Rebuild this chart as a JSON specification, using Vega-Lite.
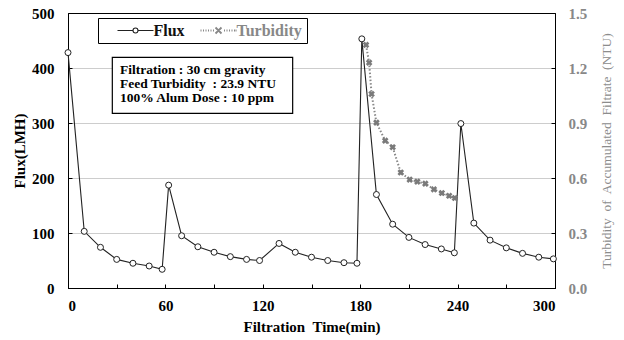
{
  "$schema": "https://vega.github.io/schema/vega-lite/v6.json",
  "width": 487,
  "height": 275,
  "autosize": {"type": "none"},
  "padding": {"left": 68, "top": 13, "right": 69, "bottom": 52},
  "background": "white",
  "config": {
    "view": {"stroke": "black", "strokeWidth": 1},
    "font": "Liberation Serif",
    "axis": {
      "labelFont": "Liberation Serif",
      "labelFontWeight": "bold",
      "labelFontSize": 15,
      "titleFont": "Liberation Serif",
      "titleFontWeight": "bold",
      "titleFontSize": 15,
      "domainColor": "black",
      "tickColor": "black",
      "labelColor": "black",
      "titleColor": "black"
    }
  },
  "datasets": {
    "series": [
      {"time": 0, "value": 428, "series": "Flux"},
      {"time": 10, "value": 103, "series": "Flux"},
      {"time": 20, "value": 74, "series": "Flux"},
      {"time": 30, "value": 52, "series": "Flux"},
      {"time": 40, "value": 45, "series": "Flux"},
      {"time": 50, "value": 40, "series": "Flux"},
      {"time": 58, "value": 34, "series": "Flux"},
      {"time": 62, "value": 187, "series": "Flux"},
      {"time": 70, "value": 95, "series": "Flux"},
      {"time": 80, "value": 75, "series": "Flux"},
      {"time": 90, "value": 65, "series": "Flux"},
      {"time": 100, "value": 57, "series": "Flux"},
      {"time": 110, "value": 52, "series": "Flux"},
      {"time": 118, "value": 50, "series": "Flux"},
      {"time": 130, "value": 81, "series": "Flux"},
      {"time": 140, "value": 65, "series": "Flux"},
      {"time": 150, "value": 56, "series": "Flux"},
      {"time": 160, "value": 50, "series": "Flux"},
      {"time": 170, "value": 46, "series": "Flux"},
      {"time": 178, "value": 45, "series": "Flux"},
      {"time": 181, "value": 453, "series": "Flux"},
      {"time": 190, "value": 170, "series": "Flux"},
      {"time": 200, "value": 116, "series": "Flux"},
      {"time": 210, "value": 92, "series": "Flux"},
      {"time": 220, "value": 79, "series": "Flux"},
      {"time": 230, "value": 71, "series": "Flux"},
      {"time": 238, "value": 64, "series": "Flux"},
      {"time": 242, "value": 299, "series": "Flux"},
      {"time": 250, "value": 118, "series": "Flux"},
      {"time": 260, "value": 87, "series": "Flux"},
      {"time": 270, "value": 73, "series": "Flux"},
      {"time": 280, "value": 63, "series": "Flux"},
      {"time": 290, "value": 56, "series": "Flux"},
      {"time": 299, "value": 53, "series": "Flux"},
      {"time": 183.6, "value": 1.326, "series": "Turbidity"},
      {"time": 185.5, "value": 1.229, "series": "Turbidity"},
      {"time": 187, "value": 1.058, "series": "Turbidity"},
      {"time": 190, "value": 0.902, "series": "Turbidity"},
      {"time": 195.4, "value": 0.804, "series": "Turbidity"},
      {"time": 200, "value": 0.768, "series": "Turbidity"},
      {"time": 205, "value": 0.63, "series": "Turbidity"},
      {"time": 210.5, "value": 0.591, "series": "Turbidity"},
      {"time": 215.2, "value": 0.58, "series": "Turbidity"},
      {"time": 220.1, "value": 0.569, "series": "Turbidity"},
      {"time": 225.4, "value": 0.538, "series": "Turbidity"},
      {"time": 230.3, "value": 0.518, "series": "Turbidity"},
      {"time": 234.8, "value": 0.503, "series": "Turbidity"},
      {"time": 238.3, "value": 0.491, "series": "Turbidity"}
    ],
    "note": [
      {"x1": 27.3, "x2": 138.4, "y1": 317.6, "y2": 419.5, "tx": 32, "ty": 410,
       "text": "Filtration : 30 cm gravity\nFeed Turbidity\u00a0 : 23.9 NTU\n100% Alum Dose : 10 ppm"}
    ]
  },
  "layer": [
    {
      "layer": [
        {
          "data": {"name": "series"},
          "transform": [{"filter": "datum.series === 'Flux'"}],
          "mark": {"type": "line", "strokeWidth": 1.1},
          "encoding": {
            "x": {
              "field": "time", "type": "quantitative",
              "scale": {"domain": [0, 300], "nice": false, "zero": false},
              "axis": {
                "title": "Filtration\u00a0 Time(min)",
                "values": [0, 30, 60, 90, 120, 150, 180, 210, 240, 270, 300],
                "labelExpr": "datum.value % 60 === 0 ? datum.label : ''",
                "tickSize": -4,
                "labelPadding": 14,
                "titlePadding": 6,
                "grid": false
              }
            },
            "y": {
              "field": "value", "type": "quantitative",
              "scale": {"domain": [0, 500], "nice": false},
              "axis": {
                "title": "Flux(LMH)",
                "values": [0, 50, 100, 150, 200, 250, 300, 350, 400, 450, 500],
                "labelExpr": "datum.value % 100 === 0 ? datum.label : ''",
                "tickSize": -4,
                "labelPadding": 18,
                "titlePadding": 4,
                "grid": true,
                "gridColor": "#9a9a9a",
                "gridDash": [1, 1],
                "gridWidth": 1,
                "gridOpacity": {"condition": {"test": "datum.value % 100 === 0 && datum.value > 0 && datum.value < 500", "value": 1}, "value": 0}
              }
            },
            "color": {
              "field": "series", "type": "nominal",
              "scale": {"domain": ["Flux", "Turbidity"], "range": ["#222222", "#888888"]},
              "legend": {
                "title": null,
                "orient": "none",
                "legendX": 30,
                "legendY": 5,
                "direction": "horizontal",
                "columns": 2,
                "padding": 4.5,
                "columnPadding": 0,
                "strokeColor": "black",
                "fillColor": "white",
                "symbolSize": 256,
                "labelOffset": 35,
                "labelFont": "Liberation Serif",
                "labelFontWeight": "bold",
                "labelFontSize": 16,
                "encode": {
                  "symbols": {
                    "update": {
                      "shape": {"signal": "datum.value === 'Flux' ? 'M0.875,0H2.8125M3.4375,0H5.375M2.8125,0A0.3125,0.3125,0,1,1,3.4375,0A0.3125,0.3125,0,1,1,2.8125,0' : 'M0.875,0h0.125M1.1875,0h0.125M1.5,0h0.125M1.8125,0h0.125M2.125,0h0.125M2.4375,0h0.125M3.8125,0h0.125M4.125,0h0.125M4.4375,0h0.125M4.75,0h0.125M5.0625,0h0.125M5.25,0h0.125M2.75,-0.375L3.5,0.375M2.75,0.375L3.5,-0.375'"},
                      "fill": {"value": "transparent"},
                      "strokeDash": {"value": []},
                      "strokeWidth": {"signal": "datum.value === 'Flux' ? 1.1 : 1.8"}
                    }
                  },
                  "labels": {
                    "update": {
                      "fill": {"signal": "datum.value === 'Flux' ? '#111111' : '#888888'"}
                    }
                  }
                }
              }
            }
          }
        },
        {
          "data": {"name": "series"},
          "transform": [{"filter": "datum.series === 'Flux'"}],
          "mark": {"type": "point", "shape": "circle", "filled": true, "fill": "white", "stroke": "#222222", "strokeWidth": 1, "size": 36, "opacity": 1},
          "encoding": {
            "x": {"field": "time", "type": "quantitative"},
            "y": {"field": "value", "type": "quantitative"}
          }
        },
        {
          "data": {"name": "note"},
          "mark": {"type": "rect", "fill": "white", "stroke": "black", "strokeWidth": 1.2},
          "encoding": {
            "x": {"field": "x1", "type": "quantitative"},
            "x2": {"field": "x2"},
            "y": {"field": "y1", "type": "quantitative"},
            "y2": {"field": "y2"}
          }
        },
        {
          "data": {"name": "note"},
          "mark": {"type": "text", "align": "left", "baseline": "top", "lineBreak": "\n", "lineHeight": 14, "font": "Liberation Serif", "fontWeight": "bold", "fontSize": 13.5, "color": "black"},
          "encoding": {
            "x": {"field": "tx", "type": "quantitative"},
            "y": {"field": "ty", "type": "quantitative"},
            "text": {"field": "text"}
          }
        }
      ]
    },
    {
      "layer": [
        {
          "data": {"name": "series"},
          "transform": [{"filter": "datum.series === 'Turbidity'"}],
          "mark": {"type": "line", "strokeWidth": 2, "strokeDash": [1.5, 2]},
          "encoding": {
            "x": {"field": "time", "type": "quantitative"},
            "y": {
              "field": "value", "type": "quantitative",
              "scale": {"domain": [0, 1.5], "nice": false},
              "axis": {
                "orient": "right",
                "title": "Turbidity\u00a0 of\u00a0 Accumulated\u00a0 Filtrate\u00a0 (NTU)",
                "titleFontWeight": "normal",
                "titleFontSize": 13.5,
                "titleAngle": 270,
                "titleX": 51.5,
                "titleY": 137.5,
                "titleAlign": "center",
                "titleBaseline": "middle",
                "values": [0, 0.15, 0.3, 0.45, 0.6, 0.75, 0.9, 1.05, 1.2, 1.35, 1.5],
                "format": ".1f",
                "labelExpr": "abs(round(datum.value * 100) % 30) < 1 ? datum.label : ''",
                "tickSize": -4,
                "labelPadding": 17,
                "labelColor": "#888888",
                "titleColor": "#8c8c8c",
                "grid": false
              }
            },
            "color": {"field": "series", "type": "nominal"}
          }
        },
        {
          "data": {"name": "series"},
          "transform": [{"filter": "datum.series === 'Turbidity'"}],
          "mark": {"type": "point", "shape": "cross", "angle": 45, "filled": true, "color": "#7a7a7a", "size": 45, "opacity": 1},
          "encoding": {
            "x": {"field": "time", "type": "quantitative"},
            "y": {"field": "value", "type": "quantitative"}
          }
        }
      ]
    }
  ],
  "resolve": {"scale": {"y": "independent"}}
}
